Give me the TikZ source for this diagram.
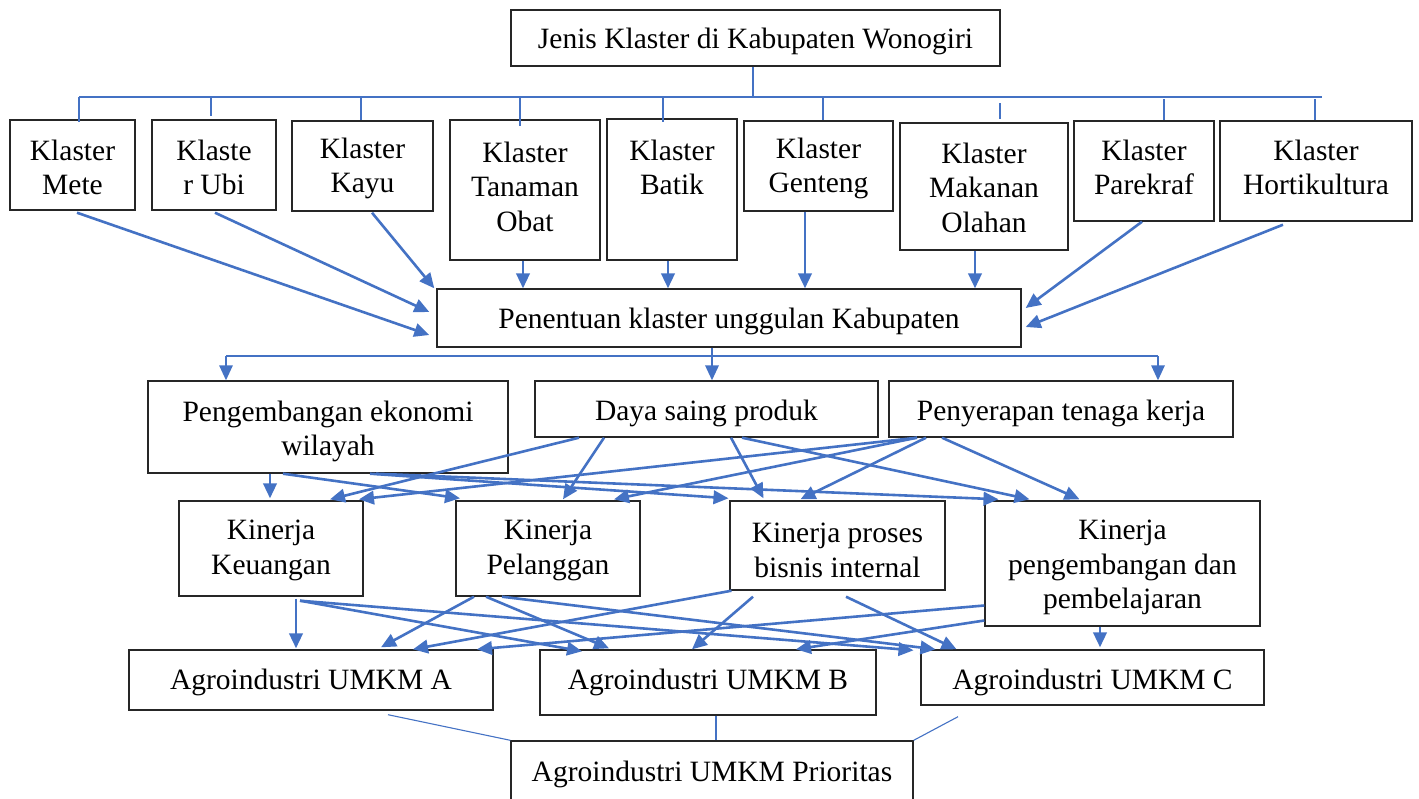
\documentclass[tikz,border=0pt]{standalone}
\usepackage{fontspec}
\setmainfont{Liberation Serif}
\usetikzlibrary{arrows.meta,calc}
\definecolor{ablue}{HTML}{4472C4}
\definecolor{bord}{HTML}{262626}
\begin{document}
\begin{tikzpicture}[x=1pt,y=-1pt,
  box/.style={draw=bord, line width=1.4pt, inner sep=0pt},
  txt/.style={inner sep=0pt, align=center, yshift=-3.5pt, font=\fontsize{29.5}{34.5}\selectfont},
  arr/.style={draw=ablue, line width=2.6pt, -{Triangle[length=15pt,width=13.5pt]}},
  tarr/.style={draw=ablue, line width=1.5pt, -{Triangle[length=15pt,width=13.5pt]}},
  tline/.style={draw=ablue, line width=1.4pt},
  pline/.style={draw=ablue, line width=1.1pt}]
\useasboundingbox (0,0) rectangle (1419,798);

% boxes
\node[box, minimum width=489pt, minimum height=56pt] (jenis) at (755.5,38) {};
\node[box, minimum width=125pt, minimum height=90pt] (mete) at (72.5,165) {};
\node[box, minimum width=124pt, minimum height=90pt] (ubi) at (214,165) {};
\node[box, minimum width=141pt, minimum height=90pt] (kayu) at (362.5,166) {};
\node[box, minimum width=150pt, minimum height=140pt] (obat) at (525,190) {};
\node[box, minimum width=130pt, minimum height=141pt] (batik) at (672,189.5) {};
\node[box, minimum width=149pt, minimum height=90pt] (genteng) at (818.5,166) {};
\node[box, minimum width=168pt, minimum height=127pt] (makanan) at (984,186.5) {};
\node[box, minimum width=140pt, minimum height=100pt] (parekraf) at (1144,171) {};
\node[box, minimum width=192pt, minimum height=100pt] (horti) at (1316,171) {};
\node[box, minimum width=584pt, minimum height=58pt] (pen) at (729,318) {};
\node[box, minimum width=360pt, minimum height=92pt] (peng) at (328,427) {};
\node[box, minimum width=343pt, minimum height=56pt] (daya) at (706.5,409) {};
\node[box, minimum width=344pt, minimum height=56pt] (peny) at (1061,409) {};
\node[box, minimum width=184pt, minimum height=95pt] (keu) at (271,548.5) {};
\node[box, minimum width=184pt, minimum height=95pt] (pel) at (548,548.5) {};
\node[box, minimum width=215pt, minimum height=89pt] (pro) at (837.5,545.5) {};
\node[box, minimum width=275pt, minimum height=125pt] (kpp) at (1122.5,563.5) {};
\node[box, minimum width=364pt, minimum height=60pt] (A) at (311,680) {};
\node[box, minimum width=336pt, minimum height=65pt] (B) at (708,682.5) {};
\node[box, minimum width=343pt, minimum height=55pt] (C) at (1092.5,677.5) {};
\node[box, minimum width=402pt, minimum height=69pt] (prio) at (712,775.5) {};

% texts
\node[txt] (jenis-t) at (755.5,38) {Jenis Klaster di Kabupaten Wonogiri};
\node[txt] (mete-t) at (72.5,164) {Klaster\\Mete};
\node[txt] (ubi-t) at (214,164) {Klaste\\r Ubi};
\node[txt] (kayu-t) at (362.5,165) {Klaster\\Kayu};
\node[txt] (obat-t) at (525,183) {Klaster\\Tanaman\\Obat};
\node[txt] (batik-t) at (672,164) {Klaster\\Batik};
\node[txt] (genteng-t) at (818.5,165) {Klaster\\Genteng};
\node[txt] (makanan-t) at (984,184) {Klaster\\Makanan\\Olahan};
\node[txt] (parekraf-t) at (1144,164) {Klaster\\Parekraf};
\node[txt] (horti-t) at (1316,164) {Klaster\\Hortikultura};
\node[txt] (pen-t) at (729,318) {Penentuan klaster unggulan Kabupaten};
\node[txt] (peng-t) at (328,428) {Pengembangan ekonomi\\wilayah};
\node[txt] (daya-t) at (706.5,410) {Daya saing produk};
\node[txt] (peny-t) at (1061,410) {Penyerapan tenaga kerja};
\node[txt] (keu-t) at (271,547) {Kinerja\\Keuangan};
\node[txt] (pel-t) at (548,547) {Kinerja\\Pelanggan};
\node[txt] (pro-t) at (837.5,547) {Kinerja proses\\bisnis internal};
\node[txt] (kpp-t) at (1122.5,564) {Kinerja\\pengembangan dan\\pembelajaran};
\node[txt] (A-t) at (311,679) {Agroindustri UMKM A};
\node[txt] (B-t) at (708,679) {Agroindustri UMKM B};
\node[txt] (C-t) at (1092.5,679) {Agroindustri UMKM C};
\node[txt] (prio-t) at (712,771) {Agroindustri UMKM Prioritas};

% top tree
\coordinate (busL) at (79,97);
\coordinate (busR) at (1322,97);
\draw[tline] ([xshift=-2.5pt]jenis.south) -- ([xshift=-2.5pt]jenis.south |- busL);
\draw[tline] (busL) -- (busR);
\draw[tline] (busL) -- ([xshift=6.5pt,yshift=-3pt]mete.north);
\draw[tline] ([xshift=-3pt]ubi.north |- busL) -- ([xshift=-3pt,yshift=3pt]ubi.north);
\draw[tline] ([xshift=-1.5pt]kayu.north |- busL) -- ([xshift=-1.5pt]kayu.north);
\draw[tline] ([xshift=-5pt]obat.north |- busL) -- ([xshift=-5pt,yshift=-7pt]obat.north);
\draw[tline] ([xshift=-9pt]batik.north |- busL) -- ([xshift=-9pt,yshift=-4pt]batik.north);
\draw[tline] ([xshift=4.5pt]genteng.north |- busL) -- ([xshift=4.5pt]genteng.north);
\draw[tline] ([xshift=16pt,yshift=19pt]makanan.north) -- ([xshift=16pt,yshift=3pt]makanan.north);
\draw[tline] ([xshift=20pt,yshift=21pt]parekraf.north) -- ([xshift=20pt]parekraf.north);
\draw[tline] ([xshift=-1pt,yshift=21pt]horti.north) -- ([xshift=-1pt]horti.north);

% klaster -> penentuan
\draw[arr] ([xshift=4.5pt,yshift=-2pt]mete.south) -- ([xshift=-7pt,yshift=-17pt]pen.west);
\draw[arr] ([xshift=1pt,yshift=-2pt]ubi.south) -- ([xshift=-7pt,yshift=6pt]pen.west);
\draw[arr] ([xshift=9.5pt,yshift=-1pt]kayu.south) -- ([xshift=-2pt]pen.north west);
\draw[arr] ([xshift=-2pt]obat.south) -- ([xshift=-206pt]pen.north);
\draw[arr] ([xshift=-4pt]batik.south) -- ([xshift=-61pt]pen.north);
\draw[arr] ([xshift=-13.5pt]genteng.south) -- ([xshift=76pt]pen.north);
\draw[arr] ([xshift=-9pt]makanan.south) -- ([xshift=246pt]pen.north);
\draw[arr] ([xshift=-2pt]parekraf.south) -- ([xshift=4pt,yshift=10pt]pen.east);
\draw[arr] ([xshift=-33pt,yshift=-3pt]horti.south) -- ([xshift=4pt,yshift=-9pt]pen.east);

% penentuan -> level 3
\coordinate (b2L) at (226,356);
\coordinate (b2R) at (1158,356);
\draw[tline] (b2L) -- (b2R);
\draw[tarr] (b2L) -- ([xshift=-102pt]peng.north);
\draw[tarr] (b2R) -- ([xshift=97pt]peny.north);
\draw[arr, line width=2pt] ([xshift=-17pt]pen.south) -- ([xshift=5.5pt]daya.north);

% level 3 -> level 4
\draw[arr] ([xshift=-58pt]peng.south) -- ([xshift=-1pt,yshift=2pt]keu.north);
\draw[arr] ([xshift=-45pt]peng.south) -- ([xshift=-88pt,yshift=2pt]pel.north);
\draw[arr] ([xshift=42pt]peng.south) -- ([xshift=-109pt,yshift=2pt]pro.north);
\draw[arr] ([xshift=48pt]peng.south) -- ([xshift=-124pt,yshift=1pt]kpp.north);
\draw[arr] ([xshift=-127.5pt]daya.south) -- ([xshift=59pt,yshift=1pt]keu.north);
\draw[arr] ([xshift=-102.5pt]daya.south) -- ([xshift=15pt,yshift=1pt]pel.north);
\draw[arr] ([xshift=24.5pt]daya.south) -- ([xshift=-74pt,yshift=2pt]pro.north);
\draw[arr] ([xshift=35.5pt]daya.south) -- ([xshift=-93pt,yshift=1pt]kpp.north);
\draw[arr] ([xshift=-144pt]peny.south) -- ([xshift=88pt,yshift=1pt]keu.north);
\draw[arr] ([xshift=-144pt]peny.south) -- ([xshift=66pt,yshift=1pt]pel.north);
\draw[arr] ([xshift=-135pt]peny.south) -- ([xshift=-37pt,yshift=1pt]pro.north);
\draw[arr] ([xshift=-119pt]peny.south) -- ([xshift=-43pt,yshift=1pt]kpp.north);

% level 4 -> level 5
\draw[arr] ([xshift=25pt,yshift=-2pt]keu.south) -- ([xshift=-15pt,yshift=1pt]A.north);
\draw[arr] ([xshift=29pt,yshift=-4pt]keu.south) -- ([xshift=-126pt,yshift=-2pt]B.north);
\draw[arr] ([xshift=29pt,yshift=-4pt]keu.south) -- ([xshift=-179pt,yshift=-1pt]C.north);
\draw[arr] ([xshift=-74pt]pel.south) -- ([xshift=70pt,yshift=2pt]A.north);
\draw[arr] ([xshift=-62pt]pel.south) -- ([xshift=-99pt,yshift=1pt]B.north);
\draw[arr] ([xshift=-46pt]pel.south) -- ([xshift=-157pt]C.north);
\draw[arr] ([xshift=-106pt]pro.south) -- ([xshift=102pt]A.north);
\draw[arr] ([xshift=-84.5pt,yshift=-6pt]pro.south) -- ([xshift=-16pt]B.north);
\draw[arr] ([xshift=8.5pt,yshift=-6pt]pro.south) -- ([xshift=-136pt]C.north);
\draw[arr] ([yshift=-42pt]kpp.west) -- ([xshift=166pt]A.north);
\draw[arr] ([yshift=-57pt]kpp.west) -- ([xshift=88pt]B.north);
\draw[arr] ([xshift=-22.5pt]kpp.south) -- ([xshift=7.5pt,yshift=2pt]C.north);

% level 5 -> prioritas
\draw[pline] ([xshift=77pt,yshift=-4pt]A.south) -- (prio.north west);
\draw[pline] ([xshift=8pt]B.south) -- ([xshift=4pt]prio.north);
\draw[pline] ([xshift=-134.5pt,yshift=-11pt]C.south) -- (prio.north east);
\end{tikzpicture}
\end{document}
